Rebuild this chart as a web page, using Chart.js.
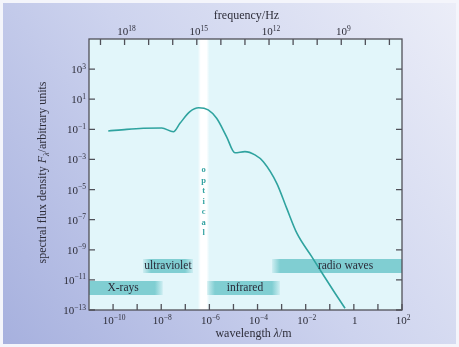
<!DOCTYPE html>
<html>
<head>
<meta charset="utf-8">
<script src="https://cdn.jsdelivr.net/npm/chart.js@4.4.1/dist/chart.umd.min.js"></script>
<style>
html, body { margin: 0; padding: 0; background: #fff; }
canvas { display: block; }
</style>
</head>
<body>
<canvas id="sedChart" width="459" height="347"></canvas>
<script>
// spectrum (wavelength in m, flux in arbitrary units)
const wavelength = [6.3e-11, 3.7e-10, 1.8e-9, 1.05e-8, 3.2e-8, 6.0e-8, 1.55e-7, 3.6e-7, 8.9e-7, 2.0e-6,
    5.2e-6, 1.15e-5, 3.0e-5, 7.8e-5, 1.74e-4, 6.3e-4, 1.62e-3, 4.3e-3, 1.78e-2, 5.4e-2, 0.166, 0.43];
const flux = [0.078, 0.10, 0.117, 0.123, 0.069, 0.25, 1.48, 2.7, 1.95, 0.54,
    0.032, 2.8e-3, 3.3e-3, 2.0e-3, 7.1e-4, 2.6e-5, 5.8e-7, 1.26e-8, 3.5e-10, 2.1e-11, 1.3e-12, 1.3e-13];

// tick exponents
const wavelengthTicks = [-10, -9, -8, -7, -6, -5, -4, -3, -2, -1, 0, 1, 2];
const wavelengthLabels = [-10, -8, -6, -4, -2, 0, 2];
const fluxTicks = [3, 1, -1, -3, -5, -7, -9, -11, -13];
const frequencyTicks = [19, 18, 17, 16, 15, 14, 13, 12, 11, 10, 9, 8, 7];
const frequencyLabels = [18, 15, 12, 9];

// spectral regions
const bandNames = ['X-rays', 'ultraviolet', 'infrared', 'radio waves'];
const bandFrom = [1e-11, 1.74e-9, 7.9e-7, 4.0e-4];
const bandTo = [1.17e-8, 2.1e-7, 8.5e-4, 1e2];
const bandTop = [8.5e-12, 2.45e-10, 8.5e-12, 2.45e-10];
const bandBottom = [1e-12, 2.9e-11, 1e-12, 2.9e-11];
const bandLabelAt = [2.6e-10, 1.9e-8, 3.0e-5, 0.45];
const opticalFrom = 3.3e-7;
const opticalTo = 1.0e-6;

const SPEED_OF_LIGHT = 3e8;
const serif = '"Liberation Serif", "DejaVu Serif", serif';
const bandColor = 'rgb(128,206,210)';
const bandSoft = 'rgba(128,206,210,0.2)';

function bandFill(i) {
    return function(ctx) {
        const chart = ctx.chart;
        const area = chart.chartArea;
        const xs = chart.scales.x;
        if (!area || !xs) return bandColor;
        const a = xs.getPixelForValue(bandFrom[i]);
        const b = xs.getPixelForValue(bandTo[i]);
        const f = Math.min(0.2, 8 / (b - a));
        const g = chart.ctx.createLinearGradient(a, 0, b, 0);
        g.addColorStop(0, a <= area.left + 1 ? bandColor : bandSoft);
        g.addColorStop(f, bandColor);
        g.addColorStop(1 - f, bandColor);
        g.addColorStop(1, b >= area.right - 1 ? bandColor : bandSoft);
        return g;
    };
}

const datasets = [{
    label: 'spectrum',
    data: wavelength.map((w, i) => ({ x: w, y: flux[i] })),
    borderColor: '#2fa39f',
    borderWidth: 1.6,
    pointRadius: 0,
    cubicInterpolationMode: 'monotone',
    fill: false,
    order: 0
}];

bandNames.forEach((name, i) => {
    datasets.push({
        label: name,
        data: [{ x: bandFrom[i], y: bandTop[i] }, { x: bandTo[i], y: bandTop[i] }],
        borderColor: 'transparent',
        borderWidth: 0,
        pointRadius: 0,
        backgroundColor: bandFill(i),
        fill: '+1',
        order: 1
    });
    datasets.push({
        label: name + ' bottom',
        data: [{ x: bandFrom[i], y: bandBottom[i] }, { x: bandTo[i], y: bandBottom[i] }],
        borderColor: 'transparent',
        borderWidth: 0,
        pointRadius: 0,
        fill: false,
        order: 1
    });
});

// draws 10^n with a raised exponent
function powerLabel(ctx, exp, x, y, align) {
    const base = exp === 0 ? '1' : '10';
    const sup = exp === 0 ? '' : String(exp).replace('-', '\u2212');
    ctx.font = '11px ' + serif;
    const wb = ctx.measureText(base).width;
    ctx.font = '7.5px ' + serif;
    const ws = ctx.measureText(sup).width;
    const left = align === 'right' ? x - wb - ws : x - (wb + ws) / 2;
    ctx.textAlign = 'left';
    ctx.textBaseline = 'alphabetic';
    ctx.font = '11px ' + serif;
    ctx.fillText(base, left, y);
    ctx.font = '7.5px ' + serif;
    ctx.fillText(sup, left + wb, y - 4.5);
}

function mixedText(ctx, parts, x, y) {
    let total = 0;
    parts.forEach(p => { ctx.font = p.font; total += ctx.measureText(p.text).width; });
    let cx = x - total / 2;
    ctx.textAlign = 'left';
    ctx.textBaseline = 'alphabetic';
    parts.forEach(p => {
        ctx.font = p.font;
        ctx.fillText(p.text, cx, y + (p.dy || 0));
        cx += ctx.measureText(p.text).width;
    });
}

const decorations = {
    id: 'decorations',
    beforeDraw(chart) {
        const ctx = chart.ctx;
        const a = chart.chartArea;
        ctx.save();
        const bg = ctx.createLinearGradient(chart.width, 0, 0, chart.height);
        bg.addColorStop(0, '#eceef8');
        bg.addColorStop(0.5, '#cdd3ee');
        bg.addColorStop(1, '#a6b0de');
        ctx.fillStyle = bg;
        ctx.fillRect(0, 0, chart.width, chart.height);
        ctx.strokeStyle = '#f4f5fb';
        ctx.lineWidth = 3;
        ctx.strokeRect(1.5, 1.5, chart.width - 3, chart.height - 3);
        ctx.fillStyle = '#e2f6fa';
        ctx.fillRect(a.left, a.top, a.right - a.left, a.bottom - a.top);
        ctx.restore();
    },
    beforeDatasetsDraw(chart) {
        const ctx = chart.ctx;
        const a = chart.chartArea;
        const xs = chart.scales.x;
        const x0 = xs.getPixelForValue(opticalFrom);
        const x1 = xs.getPixelForValue(opticalTo);
        ctx.save();
        const g = ctx.createLinearGradient(x0, 0, x1, 0);
        g.addColorStop(0, 'rgba(255,255,255,0)');
        g.addColorStop(0.25, 'rgba(255,255,255,1)');
        g.addColorStop(0.75, 'rgba(255,255,255,1)');
        g.addColorStop(1, 'rgba(255,255,255,0)');
        ctx.fillStyle = g;
        ctx.fillRect(x0, a.top, x1 - x0, a.bottom - a.top);
        ctx.restore();
    },
    afterDatasetsDraw(chart) {
        const ctx = chart.ctx;
        const a = chart.chartArea;
        const xs = chart.scales.x;
        const ys = chart.scales.y;
        const fs = chart.scales.freq;
        const tick = 6;
        ctx.save();

        // frame and ticks
        ctx.strokeStyle = '#505058';
        ctx.lineWidth = 1.3;
        ctx.strokeRect(a.left, a.top, a.right - a.left, a.bottom - a.top);
        ctx.beginPath();
        wavelengthTicks.forEach(e => {
            const x = xs.getPixelForValue(Math.pow(10, e));
            ctx.moveTo(x, a.bottom);
            ctx.lineTo(x, a.bottom - tick);
        });
        frequencyTicks.forEach(e => {
            const x = fs.getPixelForValue(Math.pow(10, e));
            ctx.moveTo(x, a.top);
            ctx.lineTo(x, a.top + tick);
        });
        fluxTicks.forEach(e => {
            const y = ys.getPixelForValue(Math.pow(10, e));
            ctx.moveTo(a.left, y);
            ctx.lineTo(a.left + tick, y);
            ctx.moveTo(a.right, y);
            ctx.lineTo(a.right - tick, y);
        });
        ctx.stroke();

        // tick labels
        ctx.fillStyle = '#2e2e3a';
        wavelengthLabels.forEach(e => {
            powerLabel(ctx, e, xs.getPixelForValue(Math.pow(10, e)) + 1, a.bottom + 14, 'center');
        });
        frequencyLabels.forEach(e => {
            powerLabel(ctx, e, fs.getPixelForValue(Math.pow(10, e)) + 2, a.top - 4, 'center');
        });
        fluxTicks.forEach(e => {
            powerLabel(ctx, e, a.left - 3, ys.getPixelForValue(Math.pow(10, e)) + 4, 'right');
        });

        // axis titles
        const titleFont = '12px ' + serif;
        const titleItalic = 'italic 12px ' + serif;
        mixedText(ctx, [{ text: 'frequency/Hz', font: titleFont }], (a.left + a.right) / 2 + 1, 19);
        mixedText(ctx, [
            { text: 'wavelength ', font: titleFont },
            { text: '\u03bb', font: titleItalic },
            { text: '/m', font: titleFont }
        ], (a.left + a.right) / 2 + 8, a.bottom + 27);
        ctx.save();
        ctx.translate(46, (a.top + a.bottom) / 2 - 2);
        ctx.rotate(-Math.PI / 2);
        mixedText(ctx, [
            { text: 'spectral flux density ', font: titleFont },
            { text: 'F', font: titleItalic },
            { text: '\u03bb', font: 'italic 8px ' + serif, dy: 2.5 },
            { text: '/arbitrary units', font: titleFont }
        ], 0, 0);
        ctx.restore();

        // band names
        ctx.font = '11.5px ' + serif;
        ctx.textAlign = 'center';
        ctx.textBaseline = 'middle';
        ctx.fillStyle = '#2a2a38';
        bandNames.forEach((name, i) => {
            const x = xs.getPixelForValue(bandLabelAt[i]);
            const y = (ys.getPixelForValue(bandTop[i]) + ys.getPixelForValue(bandBottom[i])) / 2;
            ctx.fillText(name, x, y + 0.5);
        });

        // "optical" written down the strip
        const ox = xs.getPixelForValue(Math.sqrt(opticalFrom * opticalTo));
        ctx.font = 'bold 8.5px ' + serif;
        ctx.fillStyle = '#35a3a2';
        'optical'.split('').forEach((ch, i) => {
            ctx.fillText(ch, ox, a.top + 131 + i * 10.5);
        });
        ctx.restore();
    }
};

const sedChart = new Chart(document.getElementById('sedChart').getContext('2d'), {
    type: 'line',
    data: { datasets: datasets },
    options: {
        responsive: false,
        animation: false,
        layout: {
            padding: { left: 89, right: 57, top: 39, bottom: 37 }
        },
        plugins: {
            legend: { display: false },
            tooltip: { enabled: false }
        },
        scales: {
            x: {
                type: 'logarithmic',
                min: 1e-11,
                max: 1e2,
                display: false
            },
            freq: {
                type: 'logarithmic',
                axis: 'x',
                position: 'top',
                min: SPEED_OF_LIGHT / 1e2,
                max: SPEED_OF_LIGHT / 1e-11,
                reverse: true,
                display: false
            },
            y: {
                type: 'logarithmic',
                min: 1e-13,
                max: 1e5,
                display: false
            }
        }
    },
    plugins: [decorations]
});
</script>
</body>
</html>
